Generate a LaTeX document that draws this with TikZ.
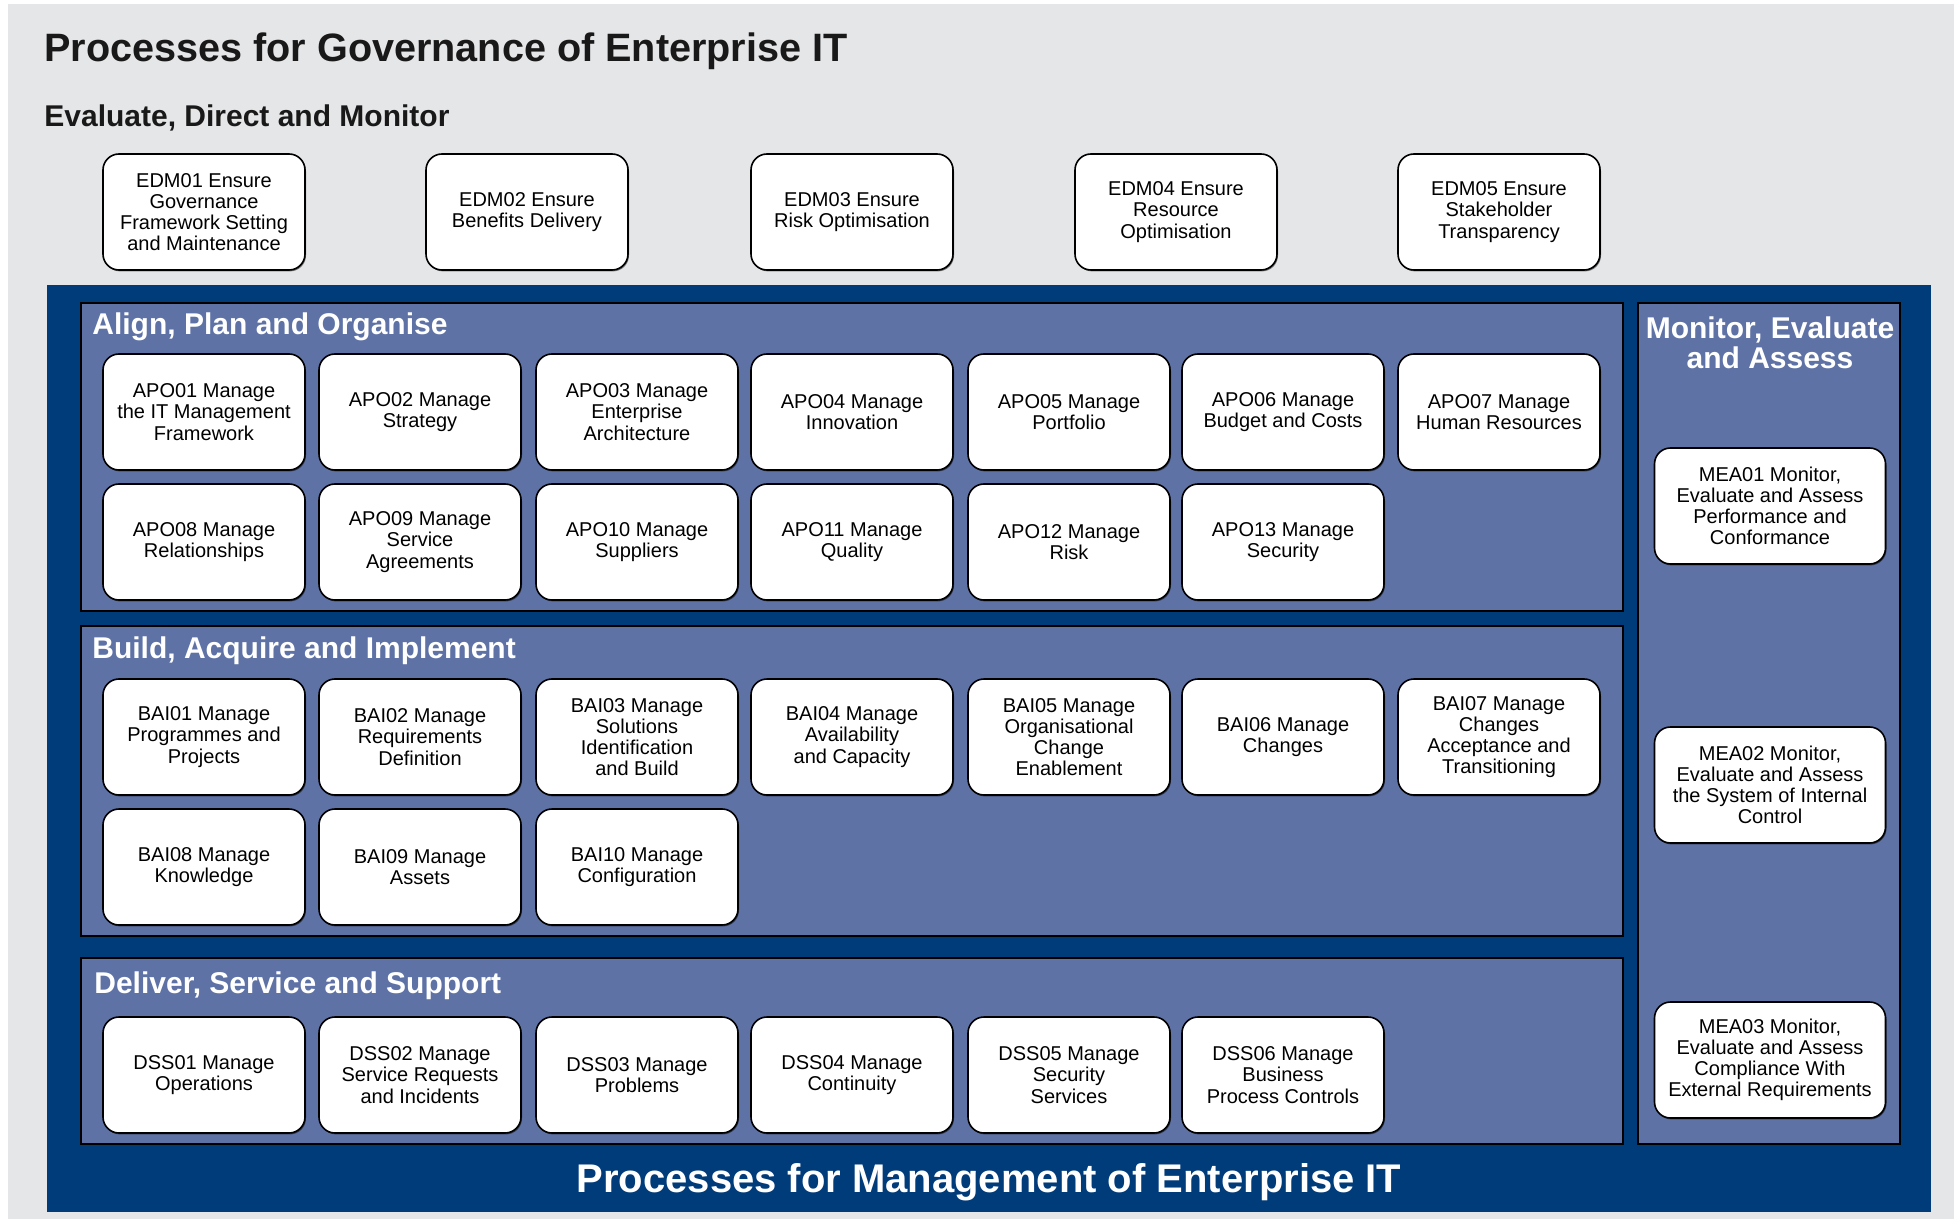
\documentclass[tikz,border=0pt]{standalone}
\usepackage{fontspec}
\setmainfont{Liberation Sans}
\usetikzlibrary{shadows}
\definecolor{bggray}{RGB}{229,230,232}
\definecolor{darkblue}{RGB}{0,59,122}
\definecolor{panelblue}{RGB}{94,114,166}
\tikzset{
  procbox/.style={draw=black, line width=0.8pt, fill=white, rounded corners=8pt,
    minimum width=101pt, minimum height=58pt, align=center, inner sep=0pt,
    font=\fontsize{10}{10.6}\selectfont,
    drop shadow={shadow xshift=0.5pt, shadow yshift=-0.7pt, opacity=0.5, fill=black}},
  meabox/.style={procbox, minimum width=115.5pt},
  panel/.style={draw=black, line width=1.2pt, fill=panelblue},
  paneltitle/.style={anchor=base west, text=white, inner sep=0pt,
    font=\bfseries\fontsize{15}{15.4}\selectfont},
}
\begin{document}
\begin{tikzpicture}[x=0.5pt, y=-0.5pt]
\useasboundingbox (0,0) rectangle (1954,1219);
\fill[white] (0,0) rectangle (1954,1219);
\fill[bggray] (8,4) rectangle (1954,1219);

% titles
\node[anchor=base west, inner sep=0pt, text=black!90, font=\bfseries\fontsize{19.8}{24}\selectfont] (title) at (44,62) {Processes for Governance of Enterprise IT};
\node[anchor=base west, inner sep=0pt, text=black!90, font=\bfseries\fontsize{15}{18}\selectfont] (edmtitle) at (44,127) {Evaluate, Direct and Monitor};

% EDM boxes
\node[procbox] (edm01) at (204,212) {EDM01 Ensure\\Governance\\Framework Setting\\and Maintenance};
\node[procbox] (edm02) at (527,212) {EDM02 Ensure\\Benefits Delivery};
\node[procbox] (edm03) at (852,212) {EDM03 Ensure\\Risk Optimisation};
\node[procbox] (edm04) at (1176,212) {EDM04 Ensure\\Resource\\Optimisation};
\node[procbox] (edm05) at (1499,212) {EDM05 Ensure\\Stakeholder\\Transparency};

% management area
\fill[darkblue] (47,285) rectangle (1931,1212);
\draw[panel] (81,303) rectangle (1623,611);
\draw[panel] (81,626) rectangle (1623,936);
\draw[panel] (81,958) rectangle (1623,1144);
\draw[panel] (1638,303) rectangle (1900,1144);

\node[paneltitle] (apotitle) at (92,335) {Align, Plan and Organise};
\node[paneltitle] (baititle) at (92,658) {Build, Acquire and Implement};
\node[paneltitle] (dsstitle) at (94,993) {Deliver, Service and Support};
\node[anchor=center, align=center, text=white, inner sep=0pt,
  font=\bfseries\fontsize{15}{15}\selectfont] (meatitle) at (1770,343) {Monitor, Evaluate\\and Assess};

\node[anchor=base, text=white, inner sep=0pt, font=\bfseries\fontsize{20}{24}\selectfont] (mgmttitle) at (989,1192) {Processes for Management of Enterprise IT};

% APO
\node[procbox] (apo01) at (204,412) {APO01 Manage\\the IT Management\\Framework};
\node[procbox] (apo02) at (420,412) {APO02 Manage\\Strategy};
\node[procbox] (apo03) at (637,412) {APO03 Manage\\Enterprise\\Architecture};
\node[procbox] (apo04) at (852,412) {APO04 Manage\\Innovation};
\node[procbox] (apo05) at (1069,412) {APO05 Manage\\Portfolio};
\node[procbox] (apo06) at (1283,412) {APO06 Manage\\Budget and Costs};
\node[procbox] (apo07) at (1499,412) {APO07 Manage\\Human Resources};
\node[procbox] (apo08) at (204,542) {APO08 Manage\\Relationships};
\node[procbox] (apo09) at (420,542) {APO09 Manage\\Service\\Agreements};
\node[procbox] (apo10) at (637,542) {APO10 Manage\\Suppliers};
\node[procbox] (apo11) at (852,542) {APO11 Manage\\Quality};
\node[procbox] (apo12) at (1069,542) {APO12 Manage\\Risk};
\node[procbox] (apo13) at (1283,542) {APO13 Manage\\Security};

% BAI
\node[procbox] (bai01) at (204,737) {BAI01 Manage\\Programmes and\\Projects};
\node[procbox] (bai02) at (420,737) {BAI02 Manage\\Requirements\\Definition};
\node[procbox] (bai03) at (637,737) {BAI03 Manage\\Solutions\\Identification\\and Build};
\node[procbox] (bai04) at (852,737) {BAI04 Manage\\Availability\\and Capacity};
\node[procbox] (bai05) at (1069,737) {BAI05 Manage\\Organisational\\Change\\Enablement};
\node[procbox] (bai06) at (1283,737) {BAI06 Manage\\Changes};
\node[procbox] (bai07) at (1499,737) {BAI07 Manage\\Changes\\Acceptance and\\Transitioning};
\node[procbox] (bai08) at (204,867) {BAI08 Manage\\Knowledge};
\node[procbox] (bai09) at (420,867) {BAI09 Manage\\Assets};
\node[procbox] (bai10) at (637,867) {BAI10 Manage\\Configuration};

% DSS
\node[procbox] (dss01) at (204,1075) {DSS01 Manage\\Operations};
\node[procbox] (dss02) at (420,1075) {DSS02 Manage\\Service Requests\\and Incidents};
\node[procbox] (dss03) at (637,1075) {DSS03 Manage\\Problems};
\node[procbox] (dss04) at (852,1075) {DSS04 Manage\\Continuity};
\node[procbox] (dss05) at (1069,1075) {DSS05 Manage\\Security\\Services};
\node[procbox] (dss06) at (1283,1075) {DSS06 Manage\\Business\\Process Controls};

% MEA
\node[meabox] (mea01) at (1770,506) {MEA01 Monitor,\\Evaluate and Assess\\Performance and\\Conformance};
\node[meabox] (mea02) at (1770,785) {MEA02 Monitor,\\Evaluate and Assess\\the System of Internal\\Control};
\node[meabox] (mea03) at (1770,1060) {MEA03 Monitor,\\Evaluate and Assess\\Compliance With\\External Requirements};
\end{tikzpicture}
\end{document}
